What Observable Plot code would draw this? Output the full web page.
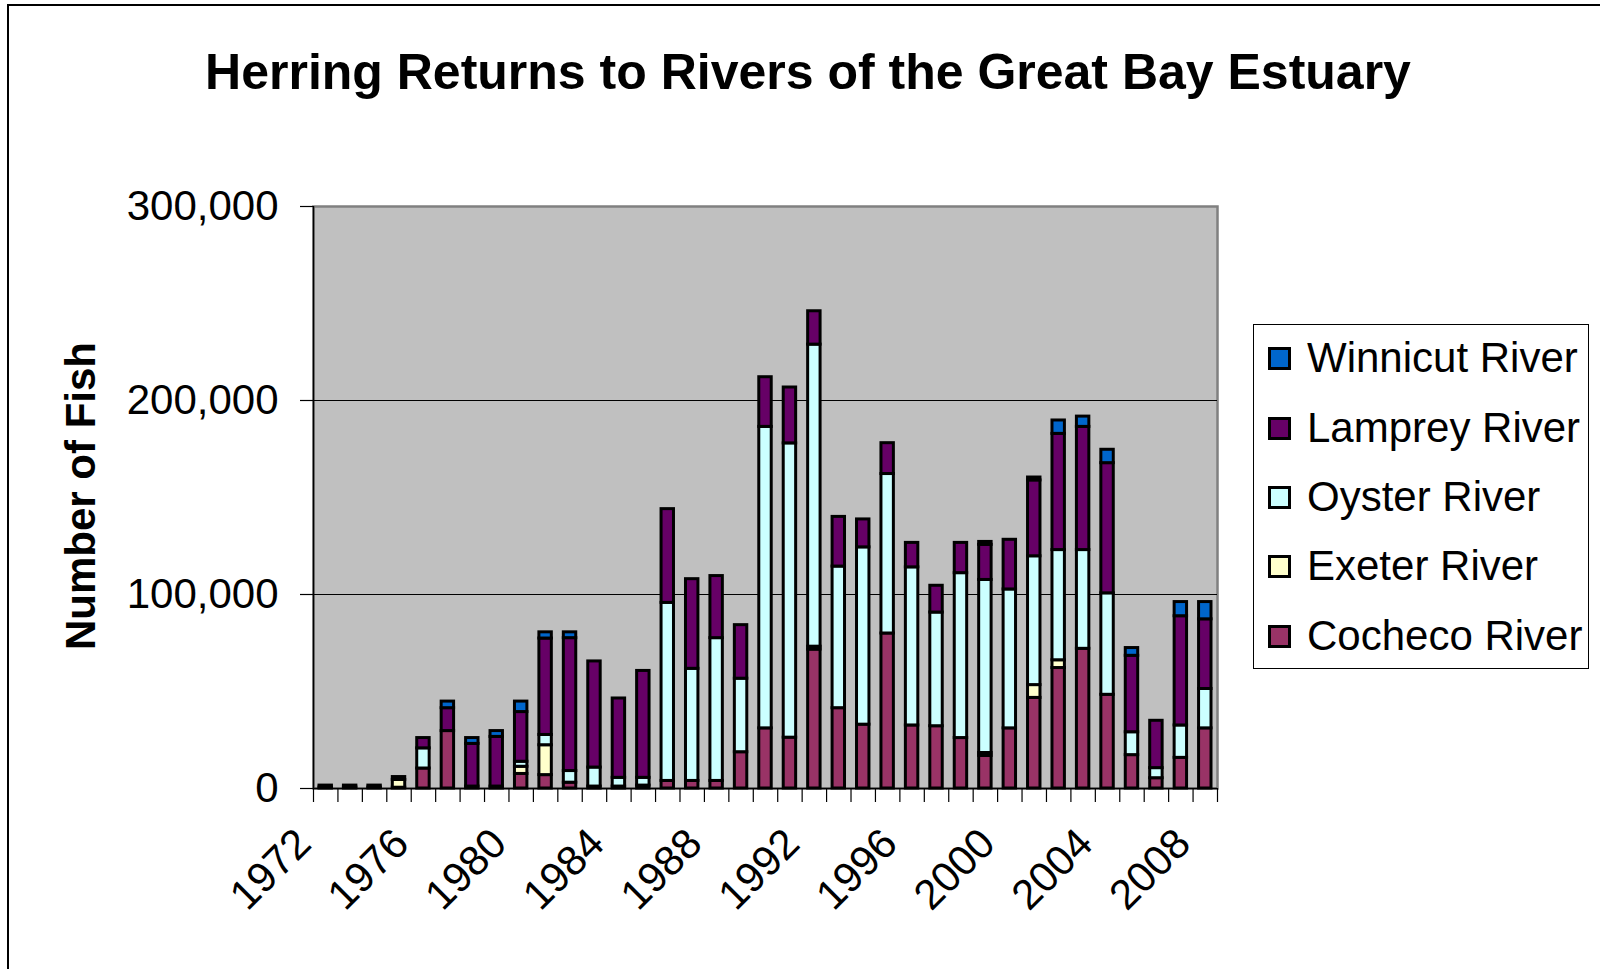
<!DOCTYPE html>
<html>
<head>
<meta charset="utf-8">
<script src="https://cdn.jsdelivr.net/npm/d3@7"></script>
<script src="https://cdn.jsdelivr.net/npm/@observablehq/plot@0.6"></script>
<style>
  body { margin: 0; background: #fff; font-family: "Liberation Sans", Arial, sans-serif; }
  #wrap { position: relative; width: 1600px; height: 969px; overflow: hidden; background: #fff; }
  #frame { position: absolute; left: 7px; top: 4px; width: 1700px; height: 1100px; border-top: 2px solid #000; border-left: 2px solid #000; pointer-events: none; }
  #title { position: absolute; left: 0; width: 1616px; top: 47px; text-align: center; font-weight: bold; font-size: 50px; line-height: 50px; color: #000; white-space: nowrap; }
  #ytitle { position: absolute; left: -119px; top: 475px; width: 400px; line-height: 42px; text-align: center; font-weight: bold; font-size: 42px; transform: rotate(-90deg); transform-origin: 200px 21px; color: #000; white-space: nowrap; }
  #chart { position: absolute; left: 0; top: 140px; }
  #legend { position: absolute; left: 1253px; top: 324px; width: 336px; height: 345px; border: 1px solid #000; box-sizing: border-box; background: #fff; }
  .item { position: absolute; left: 14px; height: 42px; display: flex; align-items: center; font-size: 42px; color: #000; white-space: nowrap; }
  .sw { width: 23px; height: 23px; box-sizing: border-box; border: 3px solid #000; margin-right: 16px; }
</style>
</head>
<body>
<div id="wrap">
  <div id="title">Herring Returns to Rivers of the Great Bay Estuary</div>
  <div id="ytitle">Number of Fish</div>
  <div id="chart"></div>
  <div id="legend"></div>
  <div id="frame"></div>
</div>
<script>
// ---- data ----
const years = [1972,1973,1974,1975,1976,1977,1978,1979,1980,1981,1982,1983,1984,1985,1986,1987,1988,1989,1990,
               1991,1992,1993,1994,1995,1996,1997,1998,1999,2000,2001,2002,2003,2004,2005,2006,2007,2008];
const rivers = ["Cocheco River", "Exeter River", "Oyster River", "Lamprey River", "Winnicut River"];
const riverColors = ["#993366", "#FFFFCC", "#CCFFFF", "#660066", "#0066CC"];
const cocheco  = [500,500,500,400,10300,29600,1000,1000,7500,6900,3000,1000,1000,1500,3900,3900,3900,18700,31000,
                  26200,71600,41400,32900,79900,32500,32100,26000,16800,31000,46700,62100,72000,48300,17200,5300,15800,31000];
const exeter   = [0,0,0,4000,0,0,0,0,3700,15400,0,0,0,0,0,0,0,0,0,
                  0,1500,0,0,0,0,0,0,1500,0,6600,4000,0,0,0,0,0,0];
const oyster   = [0,0,0,0,10400,0,0,0,2600,5300,6000,9800,4500,4000,91800,57800,73600,37900,155400,
                  151700,155700,73000,91400,82200,81500,58600,85000,89200,71600,66400,56800,50900,52300,11800,5200,16700,20300];
const lamprey  = [1000,1000,1000,1500,5300,11800,22000,25600,25600,49700,68500,54700,40900,55100,48300,46200,32000,27600,25600,
                  28800,17200,25600,14400,15900,12600,13800,15600,18100,25600,39100,59900,63500,67100,39400,24400,56300,35900];
const winnicut = [0,0,0,0,0,3400,3000,3000,5400,3200,3000,0,0,0,0,0,0,0,0,
                  0,0,0,0,0,0,0,0,1500,0,1500,6900,5300,6900,4000,0,7300,8900];
const yTicks = [0, 100000, 200000, 300000];
const xLabelYears = [1972, 1976, 1980, 1984, 1988, 1992, 1996, 2000, 2004, 2008];

// ---- build stacked table ----
const series = [cocheco, exeter, oyster, lamprey, winnicut];
const rows = [];
years.forEach((yr, i) => {
  let acc = 0;
  series.forEach((s, k) => {
    const v = s[i];
    if (v > 0) rows.push({year: yr, river: rivers[k], value: v, y1: acc, y2: acc + v});
    acc += v;
  });
});
const xDomain = [years[0] - 0.5, years[years.length - 1] + 0.5];
const boundaries = years.map(y => y - 0.5).concat([xDomain[1]]);

const chart = Plot.plot({
  width: 1600,
  height: 829,
  marginLeft: 313,
  marginRight: 383,
  marginTop: 66,
  marginBottom: 181,
  style: {fontFamily: "'Liberation Sans', Arial, sans-serif", color: "#000", background: "transparent"},
  x: {type: "linear", domain: xDomain},
  y: {domain: [0, 300000]},
  color: {domain: rivers, range: riverColors},
  marks: [
    Plot.frame({fill: "#C0C0C0", stroke: "#808080", strokeWidth: 2.5}),
    Plot.ruleY([100000, 200000], {stroke: "#000", strokeWidth: 1.2}),
    Plot.ruleX([xDomain[0]], {stroke: "#000", strokeWidth: 1.5}),
    Plot.ruleY([0], {stroke: "#000", strokeWidth: 1.5}),
    Plot.rectY(rows, {
      x1: d => d.year - 0.5, x2: d => d.year + 0.5, y1: "y1", y2: "y2",
      fill: "river", stroke: "#000", strokeWidth: 3, insetLeft: 6, insetRight: 6
    }),
    Plot.axisY({ticks: yTicks, tickFormat: d3.format(","), tickSize: 13, tickPadding: 22, fontSize: 42, label: null, stroke: "#000", strokeWidth: 1.2}),
    Plot.axisX({ticks: boundaries, tickFormat: () => "", tickSize: 14, label: null, stroke: "#000", strokeWidth: 1.2}),
    Plot.axisX({ticks: xLabelYears, tickFormat: d => String(d), tickSize: 0, tickPadding: 48, dx: -22, tickRotate: -45, fontSize: 42, label: null})
  ]
});
document.getElementById("chart").appendChild(chart);

// ---- legend (top to bottom as in the original) ----
const legend = document.getElementById("legend");
const tops = [12, 82, 151, 220, 290];
rivers.slice().reverse().forEach((r, i) => {
  const it = document.createElement("div");
  it.className = "item";
  it.style.top = tops[i] + "px";
  const sw = document.createElement("div");
  sw.className = "sw";
  sw.style.background = riverColors[rivers.indexOf(r)];
  const tx = document.createElement("span");
  tx.textContent = r;
  it.appendChild(sw);
  it.appendChild(tx);
  legend.appendChild(it);
});
</script>
</body>
</html>
